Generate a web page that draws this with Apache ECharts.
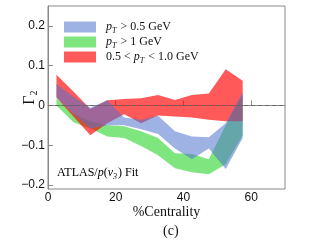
<!DOCTYPE html>
<html>
<head>
<meta charset="utf-8">
<script src="https://cdn.jsdelivr.net/npm/echarts@6/dist/echarts.min.js"></script>
<style>html,body{margin:0;padding:0;background:#fff}#c{width:323px;height:244px}</style>
</head>
<body>
<div id="c"></div>
<script>
// Centrality bin centres (%)
const centrality = [2.5, 7.5, 12.5, 17.5, 22.5, 27.5, 32.5, 37.5, 42.5, 47.5, 52.5, 57.5];
// pT > 0.5 GeV band
const bandA_upper = [0.054, 0.022, -0.006, 0.013, -0.030, -0.036, -0.026, -0.065, -0.078, -0.080, -0.045, 0.033];
const bandA_lower = [0.020, -0.020, -0.058, -0.050, -0.050, -0.060, -0.072, -0.108, -0.135, -0.108, -0.160, -0.082];
// pT > 1 GeV band
const bandB_upper = [0.018, -0.020, -0.040, -0.050, -0.052, -0.065, -0.082, -0.120, -0.122, -0.135, -0.050, 0.028];
const bandB_lower = [0.000, -0.042, -0.058, -0.078, -0.082, -0.102, -0.125, -0.158, -0.168, -0.173, -0.148, -0.075];
// 0.5 < pT < 1.0 GeV band
const bandC_upper = [0.077, 0.035, -0.009, 0.013, 0.016, 0.018, 0.026, 0.014, 0.026, 0.030, 0.091, 0.062];
const bandC_lower = [0.020, -0.028, -0.075, -0.045, -0.022, -0.045, -0.025, -0.028, -0.030, -0.036, -0.040, -0.040];

const xTicks = [0, 20, 40, 60];
const yTicks = [-0.2, -0.1, 0, 0.1, 0.2];

const legendText = {
  A: '{i|p}{s|T}{n| > 0.5 GeV}',
  B: '{i|p}{s|T}{n| > 1 GeV}',
  C: '{n|0.5 < }{i|p}{s|T}{n| < 1.0 GeV}'
};
const colors = {
  A: 'rgba(80,115,205,0.55)',
  B: 'rgba(0,205,0,0.5)',
  C: 'rgba(255,0,0,0.65)'
};

function bandSeries(name, lo, hi, z) {
  return {
    type: 'custom',
    name: name,
    z: z,
    itemStyle: { color: colors[name] },
    data: centrality.map((x, i) => [x, lo[i], hi[i]]),
    encode: { x: 0, y: [1, 2] },
    renderItem: function (params, api) {
      if (params.dataIndex !== 0) return;
      const pts = [];
      for (let i = 0; i < centrality.length; i++) pts.push(api.coord([centrality[i], hi[i]]));
      for (let i = centrality.length - 1; i >= 0; i--) pts.push(api.coord([centrality[i], lo[i]]));
      return { type: 'polygon', shape: { points: pts }, style: { fill: colors[name] } };
    }
  };
}

const richLegend = {
  n: { fontFamily: 'Liberation Serif', fontSize: 12, color: '#111' },
  i: { fontFamily: 'Liberation Serif', fontStyle: 'italic', fontSize: 12, color: '#111' },
  s: { fontFamily: 'Liberation Serif', fontStyle: 'italic', fontSize: 8, color: '#111', padding: [7, 1, 0, 0] }
};

function legendFor(name, top) {
  return {
    data: [{ name: name, icon: 'rect', itemStyle: { color: colors[name] } }],
    left: 64, top: top, orient: 'vertical',
    itemWidth: 32, itemHeight: 11, padding: 0,
    selectedMode: false,
    formatter: () => legendText[name],
    textStyle: { padding: [0, 0, 0, 5], rich: richLegend }
  };
}

const chart = echarts.init(document.getElementById('c'), null, { renderer: 'canvas' });
chart.setOption({
  animation: false,
  grid: { left: 48, right: 38, top: 6, bottom: 55, show: true, borderColor: '#888', borderWidth: 1,
          containLabel: false, outerBoundsMode: 'none' },
  legend: [legendFor('A', 21), legendFor('B', 36), legendFor('C', 51)],
  xAxis: {
    type: 'value', min: 0, max: 70, interval: 20,
    name: '%Centrality', nameLocation: 'middle', nameGap: 16, nameMoveOverlap: false,
    nameTextStyle: { fontFamily: 'Liberation Serif', fontSize: 14, color: '#111', verticalAlign: 'top' },
    axisLine: { lineStyle: { color: '#888' } },
    axisTick: { inside: true, length: 5, lineStyle: { color: '#888' }, customValues: xTicks },
    axisLabel: { fontFamily: 'Liberation Sans', fontSize: 12, color: '#111', margin: 3, customValues: xTicks },
    splitLine: { show: false }
  },
  yAxis: {
    type: 'value', min: -0.21, max: 0.25,
    name: '{g|Γ}{s|2}', nameLocation: 'middle', nameGap: 9, nameMoveOverlap: false,
    nameTextStyle: {
      rich: {
        g: { fontFamily: 'Liberation Serif', fontSize: 16, color: '#111' },
        s: { fontFamily: 'Liberation Serif', fontSize: 10, color: '#111', padding: [8, 0, 0, 0] }
      }
    },
    axisLine: { show: true, lineStyle: { color: '#888' } },
    axisTick: { show: true, inside: true, length: 5, lineStyle: { color: '#888' }, customValues: yTicks },
    axisLabel: {
      fontFamily: 'Liberation Sans', fontSize: 12, color: '#111', margin: 3, customValues: yTicks,
      formatter: v => (Math.abs(v) < 1e-9 ? '0' : String(Math.round(v * 10) / 10).replace('-', '\u2212'))
    },
    splitLine: { show: false }
  },
  graphic: [
    {
      type: 'text', left: 57, top: 167,
      style: {
        text: '{n|ATLAS/}{i|p}{n|(}{i|v}{s|3}{n|) Fit}',
        rich: richLegend
      }
    },
    {
      type: 'text', left: 163, top: 224,
      style: { text: '(c)', fontFamily: 'Liberation Serif', fontSize: 14, fill: '#111' }
    }
  ],
  series: [
    bandSeries('B', bandB_lower, bandB_upper, 2),
    bandSeries('C', bandC_lower, bandC_upper, 3),
    bandSeries('A', bandA_lower, bandA_upper, 4),
    {
      type: 'line', data: [], z: 5,
      markLine: {
        silent: true, symbol: 'none', label: { show: false },
        lineStyle: { color: '#666', type: [4, 3], width: 1 },
        data: [{ yAxis: 0 }]
      }
    }
  ]
});
</script>
</body>
</html>
